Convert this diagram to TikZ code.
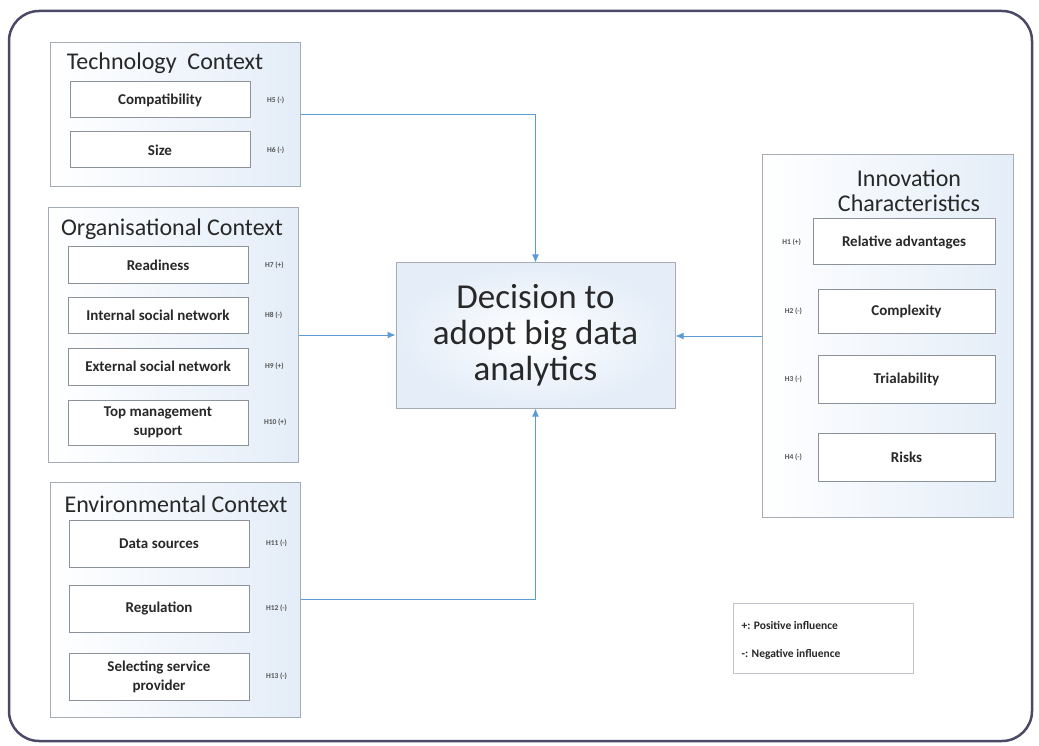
\documentclass[tikz,border=0pt]{standalone}
\usepackage{fontspec}
\setmainfont{Carlito}
\usepackage{tikz}
\usetikzlibrary{arrows.meta, positioning, shadings}
\definecolor{framegray}{RGB}{75,74,102}
\definecolor{boxgray}{RGB}{165,172,182}
\definecolor{itemgray}{RGB}{140,146,154}
\definecolor{linkblue}{RGB}{91,155,213}
\definecolor{paleblue}{RGB}{228,237,248}
\definecolor{textdark}{RGB}{40,40,40}

\begin{document}
\begin{tikzpicture}[
  x=1pt, y=-1pt,
  ctxbox/.style={draw=boxgray, line width=1pt, left color=white, right color=paleblue,
                 inner sep=0pt},
  itembox/.style={draw=itemgray, line width=1pt, fill=white, text=textdark,
                  minimum width=180pt,
                  font=\fontsize{15}{19}\selectfont\bfseries, align=center, inner sep=0pt},
  ctxtitle/.style={font=\fontsize{24}{25}\selectfont, text=textdark, align=center},
  hlabel/.style={font=\fontsize{7.5}{9}\selectfont\bfseries, text=textdark!80},
  legtext/.style={font=\fontsize{11.5}{13}\selectfont\bfseries, text=textdark, anchor=west},
  arrow/.style={-{Latex[length=8pt,width=7pt]}, line width=1pt, color=linkblue},
]

%% Frame and page
\useasboundingbox (0,0) rectangle (1039,746);
\draw[framegray, line width=2.5pt, rounded corners=30pt] (9,11) rectangle (1032,741);

%% Technology context
\node[ctxbox, minimum width=250pt, minimum height=144pt] (tech) at (175,115) {};
\node[ctxtitle] (techtitle) at (165,63) {Technology\ \ Context};
\node[itembox, minimum height=36pt] (compat) at (160,100) {Compatibility};
\node[itembox, minimum height=36pt] (size)   at (160,150) {Size};
\node[hlabel, right=13pt of compat] (h5) {H5 (-)};
\node[hlabel, right=13pt of size]   (h6) {H6 (-)};

%% Organisational context
\node[ctxbox, minimum width=250pt, minimum height=254pt] (org) at (173,335) {};
\node[ctxtitle] (orgtitle) at (172,229) {Organisational Context};
\node[itembox, minimum height=36pt] (ready)   at (158,265)   {Readiness};
\node[itembox, minimum height=36pt] (intnet)  at (158,315)   {Internal social network};
\node[itembox, minimum height=37pt] (extnet)  at (158,366.5) {External social network};
\node[itembox, minimum height=45pt] (topmgmt) at (158,422.5) {Top management\\support};
\node[hlabel, right=13pt of ready]   (h7)  {H7 (+)};
\node[hlabel, right=13pt of intnet]  (h8)  {H8 (-)};
\node[hlabel, right=13pt of extnet]  (h9)  {H9 (+)};
\node[hlabel, right=12pt of topmgmt] (h10) {H10 (+)};

%% Environmental context
\node[ctxbox, minimum width=250pt, minimum height=235pt] (env) at (175,599.5) {};
\node[ctxtitle] (envtitle) at (176,504) {Environmental Context};
\node[itembox, minimum height=47pt] (datasrc)  at (159,543.5) {Data sources};
\node[itembox, minimum height=47pt] (regul)    at (159,608.5) {Regulation};
\node[itembox, minimum height=47pt] (provider) at (159,676.5) {Selecting service\\provider};
\node[hlabel, right=13pt of datasrc]  (h11) {H11 (-)};
\node[hlabel, right=13pt of regul]    (h12) {H12 (-)};
\node[hlabel, right=13pt of provider] (h13) {H13 (-)};

%% Decision
\node[draw=boxgray, line width=1pt, inner color=white, outer color=paleblue,
      minimum width=279pt, minimum height=145pt, text=textdark,
      font=\fontsize{35}{36}\selectfont, align=center] (decision) at (535.5,335.5)
      {Decision to\\adopt big data\\analytics};

%% Innovation characteristics
\node[ctxbox, minimum width=251pt, minimum height=362pt] (innov) at (887.5,336) {};
\node[ctxtitle] (innovtitle) at (909,191) {Innovation\\Characteristics};
\node[itembox, minimum width=182pt, minimum height=46pt] (reladv)  at (904,242) {Relative advantages};
\node[itembox, minimum width=177pt, minimum height=44pt] (complex) at (906.5,311) {Complexity};
\node[itembox, minimum width=177pt, minimum height=48pt] (trial)   at (906.5,379) {Trialability};
\node[itembox, minimum width=177pt, minimum height=48pt] (risks)   at (906.5,457) {Risks};
\node[hlabel, left=8pt of reladv]   (h1) {H1 (+)};
\node[hlabel, left=12pt of complex] (h2) {H2 (-)};
\node[hlabel, left=12pt of trial]   (h3) {H3 (-)};
\node[hlabel, left=12pt of risks]   (h4) {H4 (-)};

%% Legend
\node[draw=boxgray!70, line width=0.8pt, fill=white, minimum width=180pt, minimum height=70pt] (legend) at (823,638) {};
\node[legtext] (legpos) at (738,625) {+: Positive influence};
\node[legtext] (legneg) at (738,654) {-: Negative influence};

%% Arrows
\draw[arrow] (tech.east)  -| (decision.north);
\draw[arrow] (org.east)   -- (org.east -| decision.west);
\draw[arrow] (env.east)   -| (decision.south);
\draw[arrow] (innov.west) -- (innov.west -| decision.east);

\end{tikzpicture}
\end{document}
